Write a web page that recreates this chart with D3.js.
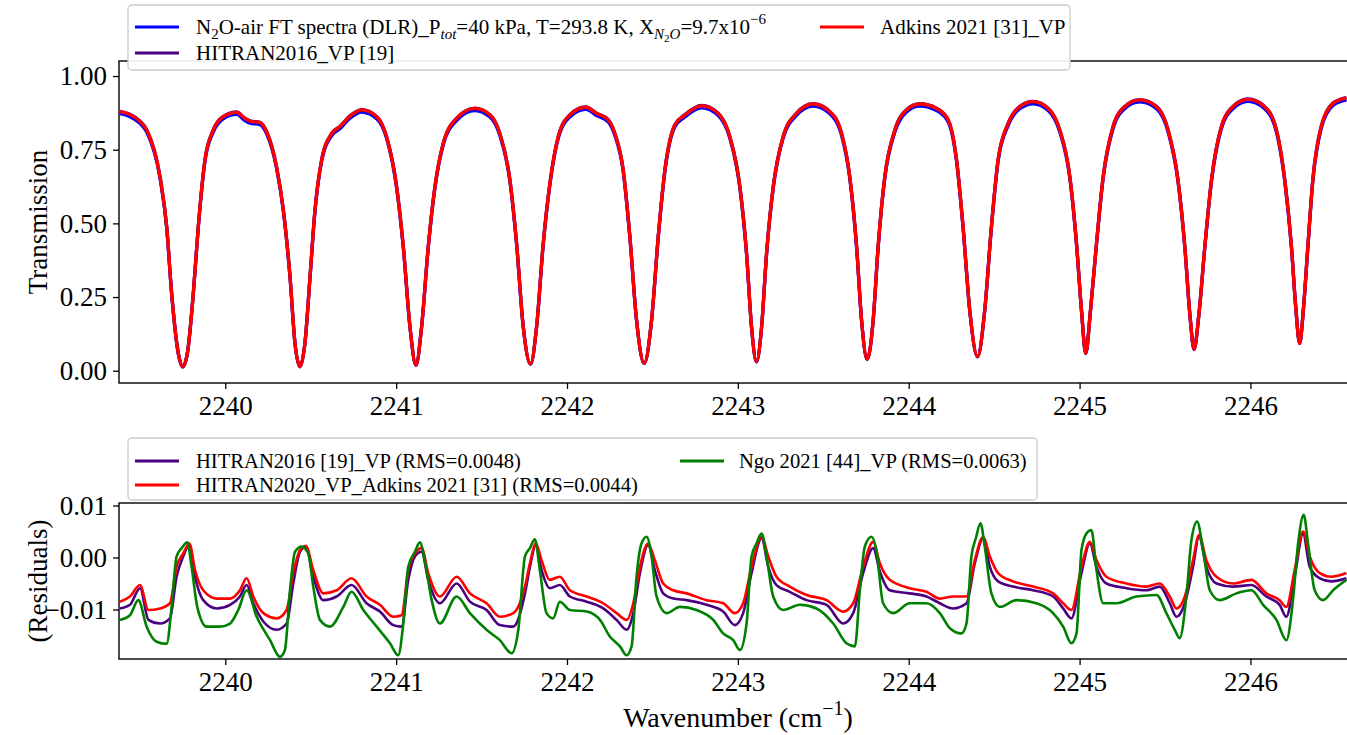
<!DOCTYPE html>
<html><head><meta charset="utf-8">
<script src="https://cdn.jsdelivr.net/npm/d3@7"></script>
<style>body{margin:0;background:#fff}</style>
</head><body>
<script>
// ---------------- DATA ----------------
const xTicks = [2240, 2241, 2242, 2243, 2244, 2245, 2246];
const transTicks = [0, 0.25, 0.5, 0.75, 1.0];
const residTicks = [-0.01, 0, 0.01];

// Transmission spectrum (wavenumber, cm-1)
const specNu = [
 2239.384,2239.442,2239.501,2239.540,2239.618,2239.657,2239.686,2239.725,2239.751,2239.778,2239.813,2239.842,2239.881,2239.930,2239.988,
 2240.067,2240.115,2240.145,2240.203,2240.242,2240.300,2240.340,2240.379,2240.408,2240.437,2240.466,2240.496,2240.525,2240.564,2240.623,2240.671,2240.730,2240.798,2240.886,2240.944,
 2241.003,2241.042,2241.081,2241.116,2241.149,2241.188,2241.227,2241.276,2241.354,2241.461,2241.549,2241.607,2241.666,2241.705,2241.744,2241.787,2241.822,2241.861,2241.900,2241.949,
 2242.017,2242.110,2242.173,2242.241,2242.280,2242.329,2242.368,2242.407,2242.452,2242.495,2242.534,2242.573,2242.631,2242.690,2242.788,2242.885,2242.953,
 2243.012,2243.051,2243.080,2243.109,2243.139,2243.168,2243.207,2243.265,2243.343,2243.441,2243.538,2243.607,2243.655,2243.695,2243.724,2243.757,2243.792,2243.821,2243.860,2243.919,2243.987,
 2244.065,2244.163,2244.231,2244.280,2244.318,2244.357,2244.403,2244.445,2244.484,2244.523,2244.582,2244.650,2244.728,2244.816,2244.884,2244.943,2244.982,
 2245.011,2245.036,2245.064,2245.099,2245.138,2245.196,2245.264,2245.352,2245.450,2245.518,2245.576,2245.616,2245.645,2245.670,2245.699,2245.733,2245.772,2245.830,2245.898,2245.986,
 2246.083,2246.152,2246.201,2246.240,2246.265,2246.288,2246.311,2246.336,2246.365,2246.414,2246.483,2246.562];

// Measured (DLR FT spectra) – blue
const specObs = [
 0.872,0.862,0.839,0.810,0.653,0.486,0.262,0.058,0.012,0.058,0.262,0.486,0.710,0.810,0.855,
 0.870,0.849,0.840,0.835,0.804,0.687,0.542,0.316,0.092,0.013,0.092,0.316,0.542,0.710,0.798,0.821,0.857,0.878,0.855,0.789,
 0.619,0.418,0.148,0.018,0.148,0.418,0.619,0.767,0.849,0.883,0.861,0.798,0.642,0.429,0.148,0.022,0.148,0.429,0.631,0.789,
 0.861,0.887,0.866,0.844,0.798,0.676,0.452,0.171,0.024,0.171,0.452,0.676,0.827,0.861,0.892,0.866,0.789,
 0.619,0.395,0.148,0.030,0.148,0.395,0.619,0.789,0.866,0.898,0.872,0.798,0.653,0.418,0.171,0.038,0.171,0.418,0.653,0.810,0.878,
 0.898,0.883,0.844,0.710,0.486,0.205,0.047,0.205,0.486,0.710,0.832,0.889,0.906,0.883,0.810,0.653,0.429,
 0.205,0.058,0.205,0.429,0.653,0.821,0.889,0.912,0.889,0.810,0.642,0.418,0.194,0.072,0.194,0.418,0.642,0.821,0.889,0.914,
 0.889,0.810,0.642,0.418,0.216,0.092,0.216,0.418,0.642,0.821,0.900,0.919];

// HITRAN2016_VP – purple
const specHitran2016 = [
 0.880,0.870,0.847,0.818,0.659,0.489,0.263,0.059,0.013,0.059,0.263,0.489,0.716,0.818,0.863,
 0.878,0.857,0.848,0.843,0.812,0.693,0.545,0.319,0.093,0.014,0.093,0.319,0.545,0.716,0.806,0.829,0.865,0.886,0.863,0.795,
 0.625,0.421,0.149,0.019,0.149,0.421,0.625,0.773,0.857,0.891,0.869,0.806,0.648,0.432,0.149,0.023,0.149,0.432,0.637,0.795,
 0.869,0.895,0.874,0.852,0.806,0.682,0.455,0.172,0.025,0.172,0.455,0.682,0.835,0.869,0.900,0.874,0.795,
 0.625,0.398,0.149,0.031,0.149,0.398,0.625,0.795,0.874,0.906,0.880,0.806,0.659,0.421,0.172,0.039,0.172,0.421,0.659,0.818,0.886,
 0.906,0.891,0.852,0.716,0.489,0.206,0.048,0.206,0.489,0.716,0.840,0.897,0.914,0.891,0.818,0.659,0.432,
 0.206,0.059,0.206,0.432,0.659,0.829,0.897,0.920,0.897,0.818,0.648,0.421,0.195,0.073,0.195,0.421,0.648,0.829,0.897,0.922,
 0.897,0.818,0.648,0.421,0.217,0.093,0.217,0.421,0.648,0.829,0.908,0.927];

// Adkins 2021 [31]_VP – red
const specAdkins = [
 0.879,0.869,0.846,0.817,0.658,0.489,0.263,0.059,0.013,0.059,0.263,0.489,0.715,0.817,0.862,
 0.877,0.856,0.847,0.842,0.811,0.692,0.545,0.319,0.093,0.014,0.093,0.319,0.545,0.715,0.805,0.828,0.864,0.885,0.862,0.794,
 0.624,0.421,0.149,0.019,0.149,0.421,0.624,0.772,0.856,0.890,0.868,0.805,0.647,0.432,0.149,0.023,0.149,0.432,0.636,0.794,
 0.868,0.894,0.873,0.851,0.805,0.681,0.455,0.172,0.025,0.172,0.455,0.681,0.834,0.868,0.899,0.873,0.794,
 0.624,0.398,0.149,0.031,0.149,0.398,0.624,0.794,0.873,0.905,0.879,0.805,0.658,0.421,0.172,0.039,0.172,0.421,0.658,0.817,0.885,
 0.905,0.890,0.851,0.715,0.489,0.206,0.048,0.206,0.489,0.715,0.839,0.896,0.913,0.890,0.817,0.658,0.432,
 0.206,0.059,0.206,0.432,0.658,0.828,0.896,0.919,0.896,0.817,0.647,0.421,0.195,0.073,0.195,0.421,0.647,0.828,0.896,0.921,
 0.896,0.817,0.647,0.421,0.217,0.093,0.217,0.421,0.647,0.828,0.907,0.926];

// Residual grid for HITRAN2016 and HITRAN2020/Adkins
const residNu = [
 2239.384,2239.442,2239.501,2239.550,2239.618,2239.676,2239.715,2239.754,2239.790,2239.823,2239.871,2239.950,
 2240.028,2240.086,2240.125,2240.164,2240.223,2240.301,2240.359,2240.398,2240.437,2240.472,2240.515,2240.574,2240.652,2240.739,2240.827,2240.905,2240.983,
 2241.032,2241.071,2241.110,2241.149,2241.188,2241.256,2241.354,2241.432,2241.529,2241.607,2241.685,2241.754,2241.783,2241.818,2241.851,2241.900,2241.958,
 2242.017,2242.115,2242.212,2242.290,2242.349,2242.388,2242.427,2242.475,2242.514,2242.563,2242.622,2242.700,2242.817,2242.914,2242.982,
 2243.031,2243.080,2243.139,2243.178,2243.226,2243.304,2243.402,2243.519,2243.616,2243.675,2243.733,2243.792,2243.831,2243.889,
 2244.006,2244.104,2244.182,2244.260,2244.338,2244.387,2244.436,2244.475,2244.523,2244.611,2244.728,2244.845,2244.904,2244.952,
 2245.011,2245.060,2245.099,2245.157,2245.274,2245.391,2245.469,2245.528,2245.567,2245.616,2245.664,2245.699,2245.742,2245.801,2245.898,
 2246.006,2246.093,2246.171,2246.210,2246.259,2246.308,2246.347,2246.406,2246.474,2246.562];

const residHitran2016 = [
 -0.0098,-0.0091,-0.0059,-0.0120,-0.0127,-0.0117,-0.0037,0.0002,0.0024,-0.0037,-0.0082,-0.0098,
 -0.0091,-0.0075,-0.0053,-0.0088,-0.0123,-0.0139,-0.0127,-0.0050,0.0011,0.0021,-0.0037,-0.0082,-0.0075,-0.0053,-0.0088,-0.0104,-0.0130,
 -0.0133,-0.0043,0.0002,0.0011,-0.0043,-0.0088,-0.0050,-0.0085,-0.0101,-0.0130,-0.0133,-0.0069,-0.0018,0.0024,-0.0024,-0.0059,-0.0053,
 -0.0075,-0.0085,-0.0098,-0.0120,-0.0139,-0.0107,-0.0030,0.0024,-0.0024,-0.0069,-0.0079,-0.0082,-0.0091,-0.0104,-0.0130,
 -0.0107,-0.0030,0.0037,-0.0018,-0.0053,-0.0066,-0.0082,-0.0091,-0.0127,-0.0107,-0.0030,0.0018,-0.0027,-0.0063,
 -0.0069,-0.0075,-0.0088,-0.0098,-0.0088,-0.0011,0.0037,-0.0018,-0.0046,-0.0056,-0.0063,-0.0075,-0.0098,-0.0117,
 -0.0030,0.0027,-0.0018,-0.0050,-0.0059,-0.0063,-0.0056,-0.0088,-0.0114,-0.0088,-0.0018,0.0040,-0.0018,-0.0050,-0.0056,
 -0.0053,-0.0075,-0.0091,-0.0114,-0.0037,0.0046,-0.0018,-0.0040,-0.0046,-0.0040];

const residAdkins = [
 -0.0085,-0.0075,-0.0053,-0.0101,-0.0098,-0.0088,-0.0018,0.0008,0.0027,-0.0024,-0.0063,-0.0079,
 -0.0079,-0.0063,-0.0040,-0.0075,-0.0107,-0.0117,-0.0101,-0.0030,0.0014,0.0022,-0.0024,-0.0069,-0.0063,-0.0040,-0.0075,-0.0091,-0.0114,
 -0.0111,-0.0024,0.0008,0.0018,-0.0030,-0.0075,-0.0037,-0.0069,-0.0088,-0.0114,-0.0107,-0.0056,-0.0011,0.0027,-0.0005,-0.0043,-0.0037,
 -0.0063,-0.0075,-0.0088,-0.0107,-0.0120,-0.0088,-0.0018,0.0027,-0.0005,-0.0050,-0.0063,-0.0069,-0.0082,-0.0088,-0.0107,
 -0.0088,-0.0018,0.0040,0.0002,-0.0037,-0.0056,-0.0072,-0.0082,-0.0104,-0.0088,-0.0018,0.0030,-0.0011,-0.0043,
 -0.0059,-0.0066,-0.0079,-0.0075,-0.0075,-0.0005,0.0040,0.0002,-0.0030,-0.0046,-0.0056,-0.0069,-0.0088,-0.0101,
 -0.0018,0.0030,-0.0005,-0.0037,-0.0050,-0.0056,-0.0050,-0.0075,-0.0098,-0.0075,-0.0005,0.0043,-0.0005,-0.0037,-0.0050,
 -0.0043,-0.0069,-0.0082,-0.0095,-0.0024,0.0050,0.0002,-0.0030,-0.0037,-0.0030];

// Ngo 2021 residuals
const ngoNu = [
 2239.384,2239.442,2239.491,2239.540,2239.598,2239.657,2239.686,2239.715,2239.745,2239.778,2239.803,2239.836,2239.891,2239.969,
 2240.028,2240.076,2240.125,2240.184,2240.262,2240.320,2240.349,2240.379,2240.408,2240.447,2240.486,2240.515,2240.554,2240.613,2240.691,2240.739,2240.808,2240.886,2240.964,
 2241.012,2241.042,2241.071,2241.110,2241.139,2241.169,2241.208,2241.256,2241.354,2241.432,2241.529,2241.607,2241.676,2241.715,2241.754,2241.783,2241.812,2241.841,2241.880,2241.919,2241.958,
 2242.017,2242.115,2242.193,2242.251,2242.310,2242.349,2242.378,2242.407,2242.436,2242.466,2242.495,2242.524,2242.583,2242.661,2242.758,2242.856,2242.914,2242.973,
 2243.012,2243.051,2243.080,2243.109,2243.139,2243.168,2243.207,2243.265,2243.363,2243.460,2243.558,2243.636,2243.685,2243.714,2243.743,2243.782,2243.811,2243.850,2243.909,
 2244.006,2244.104,2244.182,2244.241,2244.309,2244.338,2244.367,2244.393,2244.420,2244.445,2244.484,2244.533,2244.631,2244.748,2244.845,2244.904,2244.952,2244.982,
 2245.011,2245.040,2245.069,2245.099,2245.138,2245.216,2245.333,2245.450,2245.508,2245.557,2245.586,2245.625,2245.655,2245.688,2245.723,2245.762,2245.820,2245.918,
 2246.006,2246.074,2246.152,2246.210,2246.249,2246.279,2246.312,2246.337,2246.376,2246.425,2246.484,2246.562];

const residNgo = [
 -0.0120,-0.0111,-0.0082,-0.0133,-0.0162,-0.0166,-0.0095,0.0002,0.0018,0.0029,-0.0018,-0.0095,-0.0133,-0.0133,
 -0.0127,-0.0101,-0.0063,-0.0114,-0.0159,-0.0191,-0.0178,-0.0063,0.0011,0.0021,0.0008,-0.0056,-0.0120,-0.0133,-0.0095,-0.0066,-0.0101,-0.0133,-0.0165,
 -0.0188,-0.0127,-0.0018,0.0011,0.0029,-0.0008,-0.0082,-0.0127,-0.0075,-0.0107,-0.0139,-0.0159,-0.0184,-0.0139,0.0002,0.0018,0.0035,-0.0024,-0.0107,-0.0117,-0.0085,
 -0.0101,-0.0104,-0.0120,-0.0152,-0.0171,-0.0188,-0.0171,-0.0037,0.0027,0.0040,0.0002,-0.0075,-0.0107,-0.0095,-0.0101,-0.0120,-0.0146,-0.0159,
 -0.0178,-0.0127,0.0002,0.0027,0.0046,0.0002,-0.0075,-0.0101,-0.0091,-0.0098,-0.0127,-0.0165,-0.0171,-0.0063,0.0021,0.0040,0.0014,-0.0088,-0.0107,
 -0.0088,-0.0088,-0.0107,-0.0136,-0.0146,-0.0127,0.0002,0.0037,0.0066,0.0021,-0.0069,-0.0095,-0.0082,-0.0088,-0.0107,-0.0133,-0.0165,-0.0146,
 0.0014,0.0046,0.0053,-0.0024,-0.0088,-0.0088,-0.0075,-0.0072,-0.0107,-0.0139,-0.0155,-0.0075,0.0034,0.0069,0.0014,-0.0063,-0.0082,-0.0069,
 -0.0063,-0.0091,-0.0120,-0.0159,-0.0082,0.0027,0.0082,0.0027,-0.0063,-0.0082,-0.0063,-0.0043];

// ---------------- DRAWING ----------------
const W = 1347, H = 735;
const FONT = '"Liberation Serif","Times New Roman",Times,serif';
const C_BLUE = '#0000ff', C_RED = '#ff0000', C_PURPLE = '#4b0082', C_GREEN = '#008000';

const svg = d3.select('body').append('svg')
  .attr('width', W).attr('height', H)
  .style('font-family', FONT);
svg.append('rect').attr('width', W).attr('height', H).attr('fill', '#fff');

const L = 119, R = 1348;
const top1 = 61, bot1 = 383, top2 = 503, bot2 = 659;

const x = d3.scaleLinear().domain([2239.378, 2246.571]).range([L, R]);
const yT = d3.scaleLinear().domain([-0.0417, 1.051]).range([bot1, top1]);
const yR = d3.scaleLinear().domain([-0.01952, 0.01048]).range([bot2, top2]);

const zip = (xs, ys) => xs.map((v, i) => [v, ys[i]]).filter(d => d[1] !== undefined);

const defs = svg.append('defs');
defs.append('clipPath').attr('id', 'c1').append('rect')
  .attr('x', L).attr('y', top1).attr('width', R - L).attr('height', bot1 - top1);
defs.append('clipPath').attr('id', 'c2').append('rect')
  .attr('x', L).attr('y', top2).attr('width', R - L).attr('height', bot2 - top2);

// --- top panel lines
const lineT = d3.line().x(d => x(d[0])).y(d => yT(d[1])).curve(d3.curveMonotoneX);
const g1 = svg.append('g').attr('clip-path', 'url(#c1)');
[[specObs, C_BLUE], [specHitran2016, C_PURPLE], [specAdkins, C_RED]].forEach(([ys, c]) => {
  g1.append('path').datum(zip(specNu, ys)).attr('d', lineT)
    .attr('fill', 'none').attr('stroke', c).attr('stroke-width', 3.3)
    .attr('stroke-linejoin', 'round');
});

// --- bottom panel lines
const lineR = d3.line().x(d => x(d[0])).y(d => yR(d[1])).curve(d3.curveMonotoneX);
const g2 = svg.append('g').attr('clip-path', 'url(#c2)');
[[residNu, residHitran2016, C_PURPLE], [residNu, residAdkins, C_RED], [ngoNu, residNgo, C_GREEN]].forEach(([xs, ys, c]) => {
  g2.append('path').datum(zip(xs, ys)).attr('d', lineR)
    .attr('fill', 'none').attr('stroke', c).attr('stroke-width', 2.6)
    .attr('stroke-linejoin', 'round');
});

// --- axes
function styleAxis(g) {
  g.select('.domain').remove();
  g.selectAll('.tick line').attr('stroke', '#000').attr('stroke-width', 1.3);
  g.selectAll('.tick text').attr('fill', '#000').style('font-size', '27px').style('font-family', FONT);
}
svg.append('g').attr('transform', `translate(0,${bot1})`)
  .call(d3.axisBottom(x).tickValues(xTicks).tickFormat(d3.format('d')).tickSize(6).tickPadding(7)).call(styleAxis);
svg.append('g').attr('transform', `translate(0,${bot2})`)
  .call(d3.axisBottom(x).tickValues(xTicks).tickFormat(d3.format('d')).tickSize(6).tickPadding(7)).call(styleAxis);
svg.append('g').attr('transform', `translate(${L},0)`)
  .call(d3.axisLeft(yT).tickValues(transTicks).tickFormat(d3.format('.2f')).tickSize(6).tickPadding(6)).call(styleAxis);
svg.append('g').attr('transform', `translate(${L},0)`)
  .call(d3.axisLeft(yR).tickValues(residTicks).tickFormat(d3.format('.2f')).tickSize(6).tickPadding(6)).call(styleAxis);

// spines
[[top1, bot1], [top2, bot2]].forEach(([t, b]) => {
  svg.append('rect').attr('x', L).attr('y', t).attr('width', R - L).attr('height', b - t)
    .attr('fill', 'none').attr('stroke', '#000').attr('stroke-width', 1.4);
});

// axis labels
svg.append('text').attr('transform', `translate(47,${(top1 + bot1) / 2}) rotate(-90)`)
  .attr('text-anchor', 'middle').style('font-size', '27px').text('Transmission');
svg.append('text').attr('transform', `translate(47,${(top2 + bot2) / 2}) rotate(-90)`)
  .attr('text-anchor', 'middle').style('font-size', '27px').text('(Residuals)');
const xl = svg.append('text').attr('x', 738).attr('y', 727)
  .attr('text-anchor', 'middle').style('font-size', '28px');
xl.append('tspan').text('Wavenumber (cm');
xl.append('tspan').attr('dy', -12).style('font-size', '20px').text('\u22121');
xl.append('tspan').attr('dy', 12).text(')');

// --- legends
function legendBox(x0, y0, w, h) {
  svg.append('rect').attr('x', x0).attr('y', y0).attr('width', w).attr('height', h)
    .attr('rx', 4).attr('fill', '#fff').attr('fill-opacity', 0.92)
    .attr('stroke', '#cccccc').attr('stroke-width', 1.3);
}
function handle(x0, y0, c) {
  svg.append('line').attr('x1', x0).attr('x2', x0 + 44).attr('y1', y0).attr('y2', y0)
    .attr('stroke', c).attr('stroke-width', 3);
}
function label(x0, y0, fs) {
  return svg.append('text').attr('x', x0).attr('y', y0 + 7).style('font-size', fs + 'px').attr('fill', '#000');
}

legendBox(128, 5, 942, 65);
handle(135, 27, C_BLUE);
const t1 = label(196, 27, 21);
t1.append('tspan').text('N');
t1.append('tspan').attr('dy', 5).style('font-size', '15px').text('2');
t1.append('tspan').attr('dy', -5).text('O-air FT spectra (DLR)_P');
t1.append('tspan').attr('dy', 5).style('font-size', '15px').style('font-style', 'italic').text('tot');
t1.append('tspan').attr('dy', -5).text('=40 kPa, T=293.8 K, X');
t1.append('tspan').attr('dy', 5).style('font-size', '15px').style('font-style', 'italic').text('N');
t1.append('tspan').attr('dy', 3).style('font-size', '11px').text('2');
t1.append('tspan').attr('dy', -3).style('font-size', '15px').style('font-style', 'italic').text('O');
t1.append('tspan').attr('dy', -5).text('=9.7x10');
t1.append('tspan').attr('dy', -10).style('font-size', '15px').text('\u22126');
handle(135, 53, C_PURPLE);
label(196, 53, 21).text('HITRAN2016_VP [19]');
handle(820, 27, C_RED);
label(880, 27, 21).text('Adkins 2021 [31]_VP');

legendBox(128, 438, 909, 62);
handle(135, 461, C_PURPLE);
label(196, 461, 20.6).text('HITRAN2016 [19]_VP (RMS=0.0048)');
handle(135, 485, C_RED);
label(196, 485, 20.6).text('HITRAN2020_VP_Adkins 2021 [31] (RMS=0.0044)');
handle(680, 461, C_GREEN);
label(739, 461, 20.6).text('Ngo 2021 [44]_VP (RMS=0.0063)');
</script>
</body></html>
